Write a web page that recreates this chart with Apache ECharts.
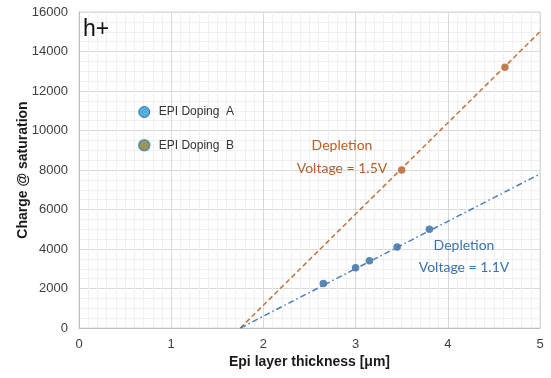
<!DOCTYPE html>
<html><head><meta charset="utf-8">
<script src="https://cdn.jsdelivr.net/npm/echarts@6/dist/echarts.min.js"></script>
<style>html,body{margin:0;padding:0;background:#fff}#c{width:551px;height:378px}</style>
</head><body><div id="c"></div>
<script>
const dopingA_x = [2.65, 3.0, 3.15, 3.45, 3.8];
const dopingA_y = [2250, 3050, 3400, 4100, 5000];
const dopingB_x = [3.5, 4.62];
const dopingB_y = [8000, 13200];
const fitA_x = [1.75, 5];
const fitA_y = [0, 7800];
const fitB_x = [1.75, 5];
const fitB_y = [0, 15000];
const xTicks = [0, 1, 2, 3, 4, 5];
const yTicks = [0, 2000, 4000, 6000, 8000, 10000, 12000, 14000, 16000];

const zip = (a, b) => a.map((v, i) => [v, b[i]]);
const chart = echarts.init(document.getElementById('c'), null, {renderer: 'canvas'});
const lab = {color: '#404040', fontSize: 13, fontFamily: 'Liberation Sans, Arial, sans-serif'};
chart.setOption({
  animation: false,
  grid: {left: 79, right: 11, top: 12, bottom: 50, show: true, borderColor: '#d9d9d9', borderWidth: 1,
         containLabel: false, outerBoundsMode: 'none'},
  xAxis: {
    type: 'value', min: xTicks[0], max: xTicks[xTicks.length - 1], interval: 1,
    name: 'Epi layer thickness [μm]', nameLocation: 'middle', nameGap: 27, nameMoveOverlap: false,
    nameTextStyle: {fontSize: 14, fontWeight: 'bold', color: '#1a1a1a', fontFamily: 'Liberation Sans, Arial, sans-serif'},
    axisLine: {show: true, lineStyle: {color: '#bfbfbf'}},
    axisTick: {show: false},
    axisLabel: Object.assign({margin: 10, formatter: v => String(v)}, lab),
    splitLine: {show: true, lineStyle: {color: '#d9d9d9', width: 1}},
    minorTick: {show: false, splitNumber: 10},
    minorSplitLine: {show: true, lineStyle: {color: '#f0f0f0', width: 1}}
  },
  yAxis: {
    type: 'value', min: yTicks[0], max: yTicks[yTicks.length - 1], interval: 2000,
    name: 'Charge @ saturation', nameLocation: 'middle', nameGap: 49, nameMoveOverlap: false,
    nameTextStyle: {fontSize: 14, fontWeight: 'bold', color: '#1a1a1a', fontFamily: 'Liberation Sans, Arial, sans-serif'},
    axisLine: {show: true, lineStyle: {color: '#bfbfbf'}},
    axisTick: {show: false},
    axisLabel: Object.assign({margin: 11, formatter: v => String(v)}, lab),
    splitLine: {show: true, lineStyle: {color: '#d9d9d9', width: 1}},
    minorTick: {show: false, splitNumber: 4},
    minorSplitLine: {show: true, lineStyle: {color: '#f0f0f0', width: 1}}
  },
  legend: {
    orient: 'vertical', left: 133, top: 101, itemGap: 21, itemWidth: 11, itemHeight: 11, z: 50,
    textStyle: {fontSize: 12, color: '#333', fontFamily: 'Liberation Sans, Arial, sans-serif', padding: [0, 0, 0, 4]},
    data: [
      {name: 'EPI Doping  A', icon: 'circle', itemStyle: {color: '#2E9BD6', borderColor: '#1F5F8F', borderWidth: 1}},
      {name: 'EPI Doping  B', icon: 'circle', itemStyle: {color: '#8A7B2A', borderColor: '#2E8BC0', borderWidth: 1.5}}
    ]
  },
  series: [
    {type: 'line', data: zip(fitB_x, fitB_y), symbol: 'none', silent: true,
     lineStyle: {color: '#C4753F', width: 1.5, type: [5, 3]}},
    {type: 'line', data: zip(fitA_x, fitA_y), symbol: 'none', silent: true,
     lineStyle: {color: '#4A7FB5', width: 1.5, type: [6, 3, 1.5, 3]}},
    {name: 'EPI Doping  A', type: 'scatter', data: zip(dopingA_x, dopingA_y), symbolSize: 7.5,
     itemStyle: {color: '#2F6AA3'}},
    {name: 'EPI Doping  B', type: 'scatter', data: zip(dopingB_x, dopingB_y), symbolSize: 7.5,
     itemStyle: {color: '#B5602A'}}
  ],
  graphic: [
    {type: 'text', left: 83, top: 18, z: 100, style: {text: 'h+', fontSize: 23, fill: '#111', fontFamily: 'Liberation Sans, Arial, sans-serif'}},
    {type: 'text', x: 342, y: 157, z: 100, style: {text: 'Depletion\nVoltage = 1.5V', fontSize: 14, lineHeight: 23, fill: '#B5602A', align: 'center', verticalAlign: 'middle', fontFamily: 'Lato, Open Sans, sans-serif'}},
    {type: 'text', x: 464, y: 256, z: 100, style: {text: 'Depletion\nVoltage = 1.1V', fontSize: 14, lineHeight: 22, fill: '#3A72AD', align: 'center', verticalAlign: 'middle', fontFamily: 'Lato, Open Sans, sans-serif'}}
  ]
});
</script></body></html>
